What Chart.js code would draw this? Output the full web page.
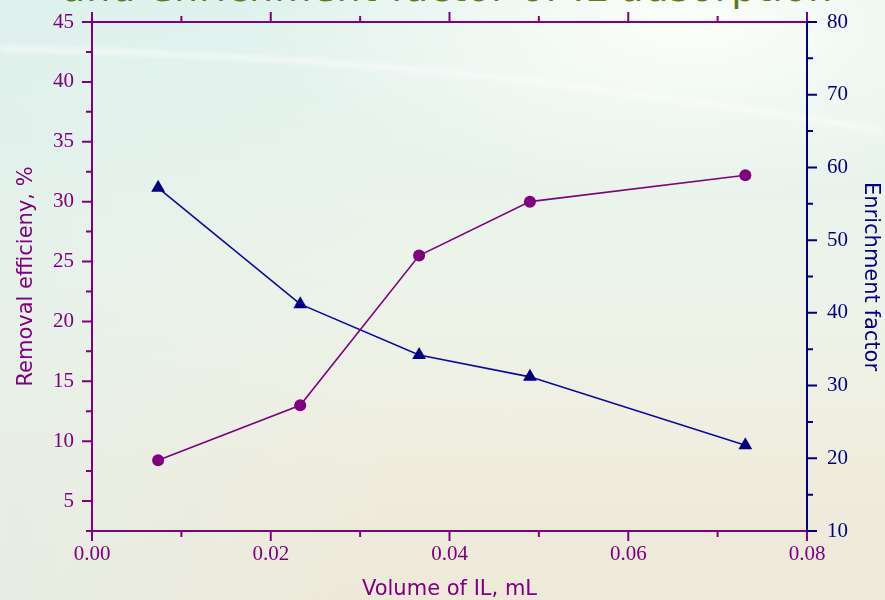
<!DOCTYPE html>
<html>
<head>
<meta charset="utf-8">
<script src="https://cdn.jsdelivr.net/npm/chart.js@4.4.1/dist/chart.umd.min.js"></script>
<style>
  html, body { margin: 0; padding: 0; }
  body {
    width: 885px; height: 600px; overflow: hidden; position: relative;
    background:
      radial-gradient(ellipse 420px 170px at 78% 4%, rgba(255,255,250,0.9), rgba(255,255,250,0) 100%),
      linear-gradient(to bottom, rgba(214,238,236,0.6) 0%, rgba(220,238,232,0.35) 40%, rgba(220,238,232,0) 75%),
      linear-gradient(to right, rgba(225,240,236,0.5) 0%, rgba(225,240,236,0) 45%),
      linear-gradient(to bottom, #f4f9f2 0%, #f3f6ea 45%, #efecdd 80%, #eee9d9 100%);
  }
  #wave { position: absolute; left: 0; top: 0; filter: blur(2.5px); }
  #slideTitle {
    position: absolute; left: 62px; top: -31px; white-space: nowrap;
    font-family: "DejaVu Sans", sans-serif; font-size: 38px; line-height: 38px;
    color: #5a7d1c; letter-spacing: 1px;
  }
  #wrap { position: absolute; left: 0; top: 0; width: 885px; height: 600px; }
</style>
</head>
<body>
<svg id="wave" width="885" height="600">
  <path d="M -20 48 Q 300 55 520 80 T 905 135" stroke="rgba(255,255,255,0.5)" stroke-width="6" fill="none"/>
</svg>
<div id="slideTitle">and enrichment factor of IL adsorption</div>
<div id="wrap"><canvas id="chart" width="885" height="600"></canvas></div>
<script>
// Volume of ionic liquid (mL) for each run
const volumes = [0.0074, 0.0233, 0.0366, 0.0490, 0.0731];
// Removal efficiency (%) — left axis
const removalEfficiency = [8.4, 13.0, 25.5, 30.0, 32.2];
// Enrichment factor — right axis
const enrichmentFactor = [57.2, 41.2, 34.2, 31.2, 21.8];

// Labelled ticks on each axis
const xTicks = [0.00, 0.02, 0.04, 0.06, 0.08];
const leftTicks = [5, 10, 15, 20, 25, 30, 35, 40, 45];
const rightTicks = [10, 20, 30, 40, 50, 60, 70, 80];

const PURPLE = '#800080';
const NAVY = '#000080';
const LINE_BLUE = '#0a0aa0';

const tickFont = { family: '"Liberation Serif", "Times New Roman", serif', size: 21 };
const titleFont = { family: '"DejaVu Sans", sans-serif', size: 21 };

// Frame with outward major/minor ticks (Origin-style axes)
const axisFrame = {
  id: 'axisFrame',
  afterDraw(chart) {
    const { ctx, chartArea: a, scales } = chart;
    const minorOf = (ticks, lo, hi) => {
      const out = [];
      for (let i = 0; i < ticks.length; i++) {
        const step = i < ticks.length - 1 ? ticks[i + 1] - ticks[i] : ticks[i] - ticks[i - 1];
        const below = ticks[i] - step / 2, above = ticks[i] + step / 2;
        if (below >= lo - 1e-9) out.push(below);
        if (above <= hi + 1e-9 && i < ticks.length - 1) out.push(above);
      }
      return out.filter((v, i, arr) => arr.findIndex(w => Math.abs(w - v) < 1e-9) === i);
    };
    const MAJ = 10, MIN = 6;
    ctx.save();
    ctx.lineWidth = 2;
    ctx.lineCap = 'butt';

    // bottom and top (purple)
    const sx = scales.x;
    ctx.strokeStyle = PURPLE;
    ctx.beginPath();
    ctx.moveTo(a.left, a.bottom); ctx.lineTo(a.right, a.bottom);
    ctx.moveTo(a.left, a.top); ctx.lineTo(a.right, a.top);
    xTicks.forEach(v => {
      const px = sx.getPixelForValue(v);
      ctx.moveTo(px, a.bottom); ctx.lineTo(px, a.bottom + MAJ);
      ctx.moveTo(px, a.top); ctx.lineTo(px, a.top - MAJ);
    });
    minorOf(xTicks, sx.min, sx.max).forEach(v => {
      const px = sx.getPixelForValue(v);
      ctx.moveTo(px, a.bottom); ctx.lineTo(px, a.bottom + MIN);
      ctx.moveTo(px, a.top); ctx.lineTo(px, a.top - MIN);
    });
    ctx.stroke();

    // left (purple)
    const sy = scales.y;
    ctx.beginPath();
    ctx.moveTo(a.left, a.top); ctx.lineTo(a.left, a.bottom);
    leftTicks.forEach(v => {
      const py = sy.getPixelForValue(v);
      ctx.moveTo(a.left, py); ctx.lineTo(a.left - MAJ, py);
    });
    minorOf(leftTicks, sy.min, sy.max).forEach(v => {
      const py = sy.getPixelForValue(v);
      ctx.moveTo(a.left, py); ctx.lineTo(a.left - MIN, py);
    });
    ctx.stroke();

    // right (navy)
    const s2 = scales.y2;
    ctx.strokeStyle = NAVY;
    ctx.beginPath();
    ctx.moveTo(a.right, a.top); ctx.lineTo(a.right, a.bottom);
    rightTicks.forEach(v => {
      const py = s2.getPixelForValue(v);
      ctx.moveTo(a.right, py); ctx.lineTo(a.right + MAJ, py);
    });
    minorOf(rightTicks, s2.min, s2.max).forEach(v => {
      const py = s2.getPixelForValue(v);
      ctx.moveTo(a.right, py); ctx.lineTo(a.right + MIN, py);
    });
    ctx.stroke();
    ctx.restore();
  }
};

const fixTicks = list => scale => { scale.ticks = list.map(v => ({ value: v })); };
// fixed box size; label overhang must not push the plot area in
const fitWidth = w => s => { s.width = w; s.paddingTop = 0; s.paddingBottom = 0; };

new Chart(document.getElementById('chart'), {
  type: 'scatter',
  data: {
    datasets: [
      {
        label: 'Removal efficiency',
        data: volumes.map((v, i) => ({ x: v, y: removalEfficiency[i] })),
        yAxisID: 'y',
        showLine: true,
        borderColor: PURPLE,
        borderWidth: 1.6,
        pointStyle: 'circle',
        pointRadius: 6,
        pointBackgroundColor: PURPLE,
        pointBorderColor: PURPLE,
        pointBorderWidth: 0
      },
      {
        label: 'Enrichment factor',
        data: volumes.map((v, i) => ({ x: v, y: enrichmentFactor[i] })),
        yAxisID: 'y2',
        showLine: true,
        borderColor: LINE_BLUE,
        borderWidth: 1.6,
        pointStyle: 'triangle',
        pointRadius: 8,
        pointBackgroundColor: NAVY,
        pointBorderColor: NAVY,
        pointBorderWidth: 0
      }
    ]
  },
  options: {
    responsive: false,
    animation: false,
    layout: { padding: { top: 22, left: 0, right: 0, bottom: 0 } },
    plugins: { legend: { display: false }, tooltip: { enabled: false } },
    scales: {
      x: {
        type: 'linear', position: 'bottom', min: 0, max: 0.08,
        grid: { display: false, drawTicks: false }, border: { display: false },
        afterBuildTicks: fixTicks(xTicks),
        afterFit: s => { s.height = 69; s.paddingLeft = 0; s.paddingRight = 0; },
        ticks: { color: PURPLE, font: tickFont, padding: 11, maxRotation: 0,
                 callback: v => v.toFixed(2) },
        title: { display: true, text: 'Volume of IL, mL', color: PURPLE,
                 font: { ...titleFont, lineHeight: 1.0 }, padding: { top: 0, bottom: 0 } }
      },
      y: {
        type: 'linear', position: 'left', min: 2.5, max: 45,
        grid: { display: false, drawTicks: false }, border: { display: false },
        afterBuildTicks: fixTicks(leftTicks),
        afterFit: fitWidth(92),
        ticks: { color: PURPLE, font: tickFont, padding: 18 },
        title: { display: true, text: 'Removal efficieny, %', color: PURPLE,
                 font: { ...titleFont, lineHeight: 1.2 }, padding: { top: 14, bottom: 0 } }
      },
      y2: {
        type: 'linear', position: 'right', min: 10, max: 80,
        grid: { display: false, drawTicks: false }, border: { display: false },
        afterBuildTicks: fixTicks(rightTicks),
        afterFit: fitWidth(78),
        ticks: { color: NAVY, font: tickFont, padding: 20 },
        title: { display: true, text: 'Enrichment factor', color: NAVY,
                 font: { ...titleFont, lineHeight: 1.2 }, padding: { top: 2, bottom: 0 } }
      }
    }
  },
  plugins: [axisFrame]
});
</script>
</body>
</html>
